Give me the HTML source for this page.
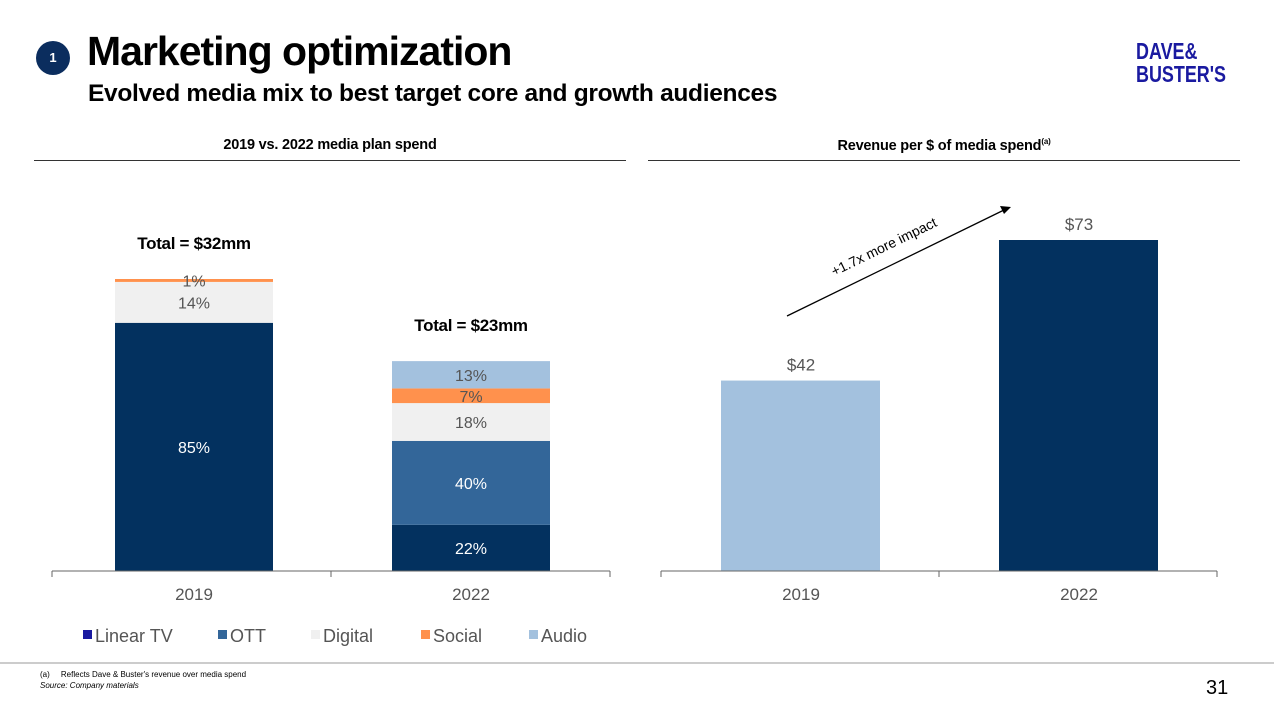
<!DOCTYPE html>
<html><head><meta charset="utf-8"><style>
body{margin:0;width:1274px;height:711px;background:#fff;font-family:"Liberation Sans",sans-serif;position:relative;overflow:hidden}
.a{position:absolute}
</style></head><body>
<div class="a" style="left:36px;top:41px;width:34px;height:34px;border-radius:50%;background:#0b2d5e;color:#fff;font-size:13px;font-weight:bold;text-align:center;line-height:34px">1</div>
<div class="a" style="left:87px;top:28px;font-size:41px;font-weight:bold;letter-spacing:-1px">Marketing optimization</div>
<div class="a" style="left:88px;top:80px;font-size:24.5px;font-weight:bold;letter-spacing:-0.3px">Evolved media mix to best target core and growth audiences</div>
<div class="a" style="left:1136px;top:40px;color:#1a1aa0;font-weight:bold;font-size:23px;line-height:23px;transform:scaleX(0.78);transform-origin:left">DAVE&amp;<br>BUSTER'S</div>
<div class="a" style="left:34px;width:592px;top:137px;text-align:center;font-size:14.5px;font-weight:bold;letter-spacing:-0.2px">2019 vs. 2022 media plan spend</div>
<div class="a" style="left:648px;width:592px;top:137px;text-align:center;font-size:14.5px;font-weight:bold;letter-spacing:-0.2px">Revenue per $ of media spend<sup style="font-size:8px">(a)</sup></div>
<div class="a" style="left:34px;top:160px;width:592px;height:1px;background:#333"></div>
<div class="a" style="left:648px;top:160px;width:592px;height:1px;background:#333"></div>
<div class="a" style="left:0;top:662px;width:1274px;height:2px;background:#ccc"></div>
<div class="a" style="left:40px;top:669px;font-size:8px;line-height:11px">(a)&nbsp;&nbsp;&nbsp;&nbsp;&nbsp;Reflects Dave &amp; Buster's revenue over media spend<br><i>Source: Company materials</i></div>
<div class="a" style="left:1206px;top:677px;font-size:20px">31</div>
<svg class="a" id="chart" style="left:0;top:0" width="1274" height="711"></svg>
<script>
const years=["2019","2022"];
const totals=[32,23];
const seriesNames=["Linear TV","OTT","Digital","Social","Audio"];
const seriesColors=["#03315f","#336699","#f0f0f0","#ff914d","#a3c1de"];
const linearTV=[85,22];
const ott=[0,40];
const digital=[14,18];
const social=[1,7];
const audio=[0,13];
const revYears=["2019","2022"];
const revenue=[42,73];
const NS="http://www.w3.org/2000/svg";
const svg=document.getElementById('chart');
function el(t,a,txt){const e=document.createElementNS(NS,t);for(const k in a)e.setAttribute(k,a[k]);if(txt!=null)e.textContent=txt;svg.appendChild(e);return e;}
const base=571;
const yL=v=>v*292/32;
const xL=i=>115+i*277;
const series=[linearTV,ott,digital,social,audio];
years.forEach((yr,i)=>{
  let cum=0;
  series.forEach((s,j)=>{
    const v=s[i]; if(!v)return;
    const h=yL(totals[i]*v/100);
    const y=base-yL(totals[i]*cum/100)-h;
    const r=el('rect',{x:xL(i),y:y,width:158,height:h,fill:seriesColors[j]});
    
    
    const t=el('text',{x:xL(i)+79,y:y+h/2+6,'text-anchor':'middle','font-size':16,fill:j<2?'#fff':'#555'},v+'%');
    
    
    cum+=v;
  });
  const top=base-yL(totals[i]);
  const tt=el('text',{x:xL(i)+79,y:top-30,'text-anchor':'middle','font-size':17,'font-weight':'bold',fill:'#000','letter-spacing':'-0.3'},'Total = $'+totals[i]+'mm');
  
  
  const c=el('text',{x:xL(i)+79,y:600,'text-anchor':'middle','font-size':17,fill:'#555'},yr);
  
  
});
el('line',{x1:52,x2:610,y1:base,y2:base,stroke:'#666'});
[52,331,610].forEach(x=>el('line',{x1:x,x2:x,y1:base,y2:577,stroke:'#666'}));
const legX=[83,218,311,421,529];
seriesNames.forEach((n,j)=>{
  const r=el('rect',{x:legX[j],y:630,width:9,height:9,fill:j==0?'#1a1aa0':seriesColors[j]});
  
  
  const t=el('text',{x:legX[j]+12,y:642,'font-size':18,fill:'#555'},n);
  
  
});
const yR=v=>v*331/73;
const xR=i=>721+i*278;
const revColors=["#a3c1de","#03315f"];
revYears.forEach((yr,i)=>{
  const h=yR(revenue[i]);
  const r=el('rect',{x:xR(i),y:base-h,width:159,height:h,fill:revColors[i]});
  
  
  const t=el('text',{x:xR(i)+80,y:base-h-10,'text-anchor':'middle','font-size':17,fill:'#555'},'$'+revenue[i]);
  
  
  const c=el('text',{x:xR(i)+80,y:600,'text-anchor':'middle','font-size':17,fill:'#555'},yr);
  
  
});
el('line',{x1:661,x2:1217,y1:base,y2:base,stroke:'#666'});
[661,939,1217].forEach(x=>el('line',{x1:x,x2:x,y1:base,y2:577,stroke:'#666'}));
const ar=el('line',{x1:787,y1:316,x2:1004,y2:210,stroke:'#000','stroke-width':1.3});


el('polygon',{points:'1011,207 1000,206 1004,214',fill:'#000'});
const at=el('text',{x:886,y:251,'text-anchor':'middle','font-size':14,fill:'#000',transform:'rotate(-26 886 251)'},'+1.7x more impact');


</script>
</body></html>
